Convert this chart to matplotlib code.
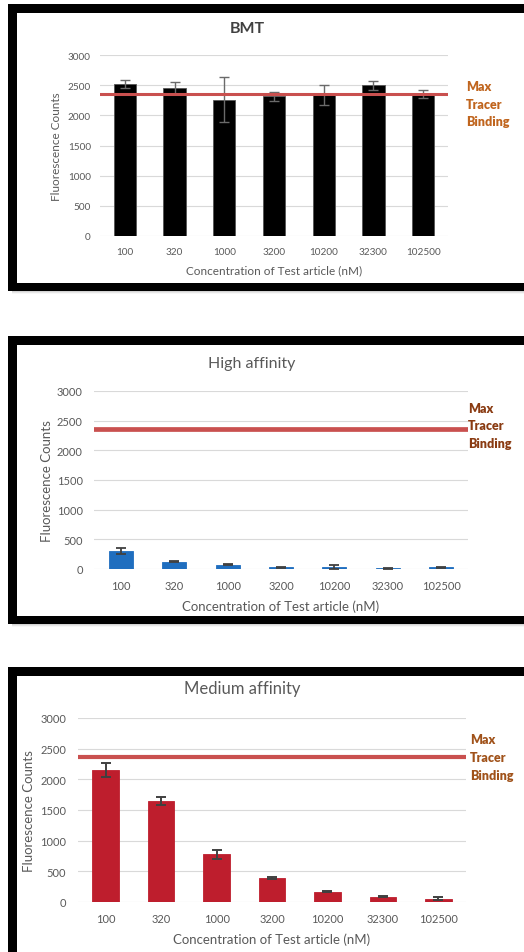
import matplotlib
matplotlib.use("Agg")
import matplotlib.pyplot as plt
from matplotlib.patches import Rectangle

plt.rcParams['font.family'] = ['Lato', 'DejaVu Sans']

# ---- data ----
concentrations = ["100", "320", "1000", "3200", "10200", "32300", "102500"]
yticks = [0, 500, 1000, 1500, 2000, 2500, 3000]
max_tracer = 2360

bmt_values = [2520, 2450, 2260, 2320, 2340, 2500, 2350]
bmt_errors = [60, 100, 370, 75, 165, 75, 70]

high_values = [300, 125, 75, 30, 30, 12, 28]
high_errors = [50, 10, 15, 5, 30, 5, 5]

medium_values = [2150, 1640, 775, 390, 170, 85, 50]
medium_errors = [115, 65, 75, 15, 10, 10, 25]

W, H = 524, 953
fig = plt.figure(figsize=(W / 100, H / 100), dpi=100)

# background layer in pixel coordinates for the framed panels
bg = fig.add_axes([0, 0, 1, 1], zorder=-10)
bg.set_xlim(0, W)
bg.set_ylim(H, 0)
bg.axis('off')

frames = [  # outer top, outer bottom
    (5, 292),
    (337, 625),
    (668, 965),
]
for top, bottom in frames:
    # soft shadow below each frame
    for i, a in enumerate([0.35, 0.22, 0.12, 0.06]):
        bg.add_patch(Rectangle((12, bottom - 2 + i), W, 2, color='#777777', alpha=a, lw=0))
    bg.add_patch(Rectangle((8, top), W + 20, bottom - top, facecolor='black', lw=0))
    bg.add_patch(Rectangle((17, top + 8.5), W + 20, bottom - top - 17, facecolor='white', lw=0))

TXT = '#595959'


def px_axes(x0, x1, ytop, ybot):
    return fig.add_axes([x0 / W, 1 - ybot / H, (x1 - x0) / W, (ybot - ytop) / H])


def panel(rect, values, errors, color, title, title_kw, ecolor, elw, bar_w,
          tick_fs, lab_fs, line_lw, note_color, note_x, note_ys, note_fs,
          ylab_pad, title_y, edge, ypad):
    ax = px_axes(*rect)
    x = list(range(len(concentrations)))
    ax.bar(x, values, width=bar_w, color=color, edgecolor=edge, linewidth=0.6,
           yerr=errors, error_kw=dict(ecolor=ecolor, elinewidth=elw, capsize=3.5,
                                      capthick=elw), zorder=3)
    ax.axhline(max_tracer, color='#C9504F', lw=line_lw, zorder=4)
    ax.set_xlim(-0.5, len(concentrations) - 0.5)
    ax.set_ylim(0, 3000)
    ax.set_yticks(yticks)
    ax.set_yticklabels([str(t) for t in yticks])
    ax.set_xticks(x)
    ax.set_xticklabels(concentrations)
    ax.grid(axis='y', color='#D9D9D9', lw=0.8, zorder=0)
    for s in ax.spines.values():
        s.set_visible(False)
    ax.tick_params(length=0, labelsize=tick_fs, colors=TXT, pad=8)
    ax.tick_params(axis='y', pad=ypad)
    ax.set_xlabel("Concentration of Test article (nM)", fontsize=lab_fs, color=TXT, labelpad=6)
    ax.set_ylabel("Fluorescence Counts", fontsize=lab_fs, color=TXT, labelpad=ylab_pad)
    fig.text(title_kw['x'] / W, 1 - title_y / H, title, ha='center', va='center',
             fontsize=title_kw['fs'], fontweight=title_kw['fw'], color=title_kw['c'])
    for word, yy in zip(["Max", "Tracer", "Binding"], note_ys):
        fig.text(note_x / W, 1 - yy / H, word, ha='left', va='center',
                 fontsize=note_fs, fontweight='heavy', color=note_color)
    return ax


panel((100, 448, 56, 237), bmt_values, bmt_errors, 'black', "BMT",
      dict(x=247, fs=11.5, fw='bold', c='#404040'), '#6a6a6a', 1.0, 0.45,
      7.2, 8.5, 2.2, '#C0651E', 466, (87, 105, 122), 9, 4, 29, '#555555', 6.5)

panel((94, 468, 392, 570), high_values, high_errors, '#1F6EBF', "High affinity",
      dict(x=252, fs=11.5, fw='normal', c=TXT), '#404040', 1.3, 0.45,
      8, 9.5, 3.4, '#8A3B12', 468, (409, 426, 444), 9, 3, 364, '#1F6EBF', 8)

panel((78, 466, 719, 903), medium_values, medium_errors, '#BE1E2D', "Medium affinity",
      dict(x=242, fs=12, fw='normal', c=TXT), '#404040', 1.4, 0.48,
      8, 9.5, 3.0, '#A0521A', 470, (740, 758, 776), 9, 4, 689, '#BE1E2D', 8.5)

fig.savefig("out.png", dpi=100)
